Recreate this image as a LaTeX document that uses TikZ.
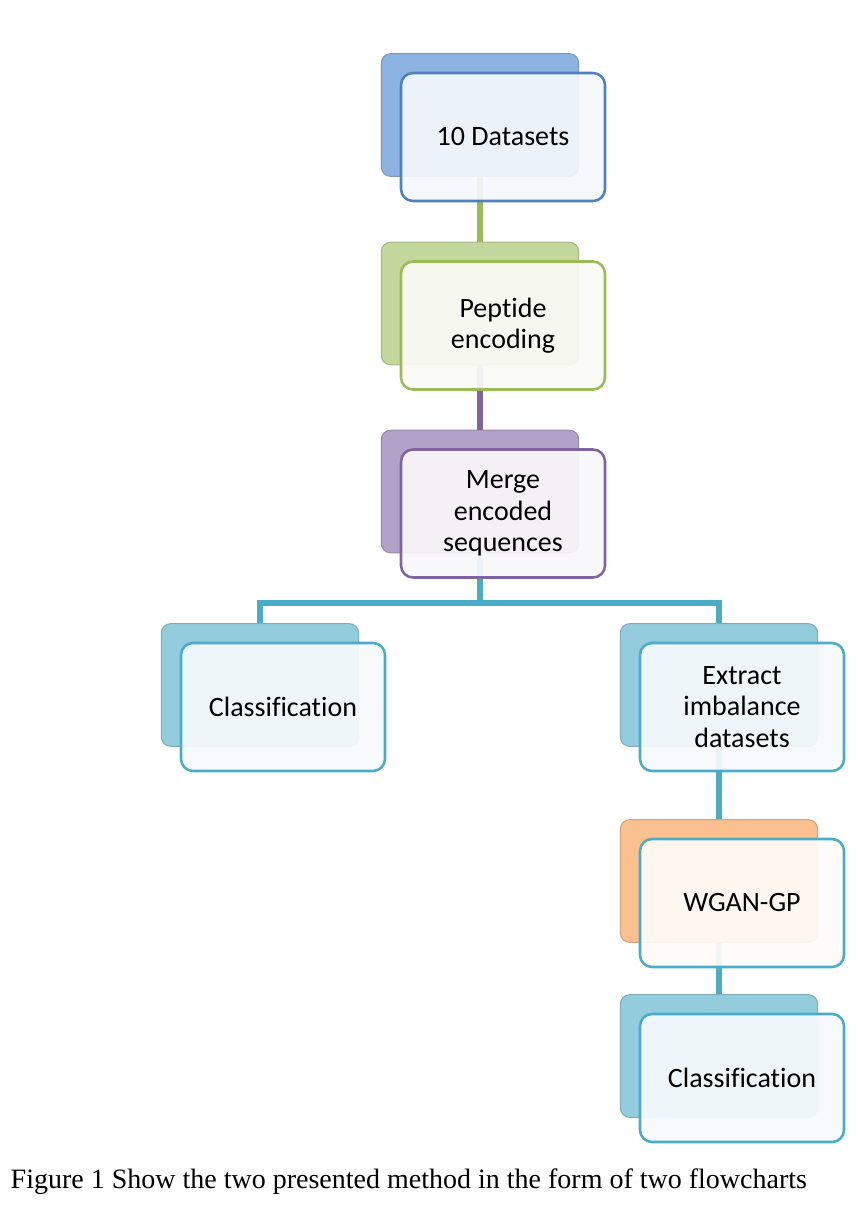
\documentclass[tikz,border=0pt]{standalone}
\usepackage{fontspec}
\setmainfont{Liberation Serif}
\newfontfamily\cardfont[RawFeature={-liga;-clig;-dlig}]{Carlito}
\usetikzlibrary{positioning,calc,backgrounds}
\definecolor{StackBlue}{HTML}{8DB3E2}
\definecolor{EdgeBlue}{HTML}{4F81BD}
\definecolor{StackGreen}{HTML}{C3D69B}
\definecolor{EdgeGreen}{HTML}{9BBB59}
\definecolor{StackPurple}{HTML}{B3A2C7}
\definecolor{EdgePurple}{HTML}{8064A2}
\definecolor{StackCyan}{HTML}{93CDDD}
\definecolor{EdgeCyan}{HTML}{4BACC6}
\definecolor{StackOrange}{HTML}{FAC090}

\begin{document}
\begin{tikzpicture}[x=0.75pt, y=-0.75pt, every node/.style={font=\cardfont\fontsize{21}{23.5}\selectfont}]
\tikzstyle{card}=[draw, line width=1.9pt, rounded corners=9pt, fill opacity=0.93, text opacity=1, align=center, minimum width=153pt, minimum height=96pt]
\tikzstyle{backcard}=[line width=0.8pt, rounded corners=7pt, minimum width=148pt, minimum height=92pt]
\tikzstyle{link}=[line width=4.5pt]
\useasboundingbox (0,0) rectangle (860,1223);
% front cards
\node[card, draw=EdgeBlue, fill=StackBlue!10] (data) at (503,137) {10 Datasets};
\node[card, draw=EdgeGreen, fill=StackGreen!9] (enc) at (503,325.5) {Peptide\\encoding};
\node[card, draw=EdgePurple, fill=StackPurple!9] (merge) at (503,513.5) {Merge\\encoded\\sequences};
\node[card, draw=EdgeCyan, fill=StackCyan!9] (clsleft) at (283,707) {Classification};
\node[card, draw=EdgeCyan, fill=StackCyan!9] (extract) at (742,707) {Extract\\imbalance\\datasets};
\node[card, draw=EdgeCyan, fill=StackOrange!7] (wgan) at (742,903) {WGAN-GP};
\node[card, draw=EdgeCyan, fill=StackCyan!9] (clsright) at (742,1078) {Classification};
\coordinate (fork) at (480,603);
\begin{scope}[on background layer]
% stacked cards behind
\node[backcard, fill=StackBlue, draw=StackBlue!85!black] (data-bk) at ($(data)+(-23,-22)$) {};
\node[backcard, fill=StackGreen, draw=StackGreen!85!black] (enc-bk) at ($(enc)+(-23,-22)$) {};
\node[backcard, fill=StackPurple, draw=StackPurple!85!black] (merge-bk) at ($(merge)+(-23,-22)$) {};
\node[backcard, fill=StackCyan, draw=StackCyan!85!black] (clsleft-bk) at ($(clsleft)+(-23,-22)$) {};
\node[backcard, fill=StackCyan, draw=StackCyan!85!black] (extract-bk) at ($(extract)+(-23,-22)$) {};
\node[backcard, fill=StackOrange, draw=StackOrange!85!black] (wgan-bk) at ($(wgan)+(-23,-22)$) {};
\node[backcard, fill=StackCyan, draw=StackCyan!85!black] (clsright-bk) at ($(clsright)+(-23,-22)$) {};
\end{scope}
\begin{scope}[on background layer]
\draw[link, EdgeGreen] (data-bk.south) -- (enc-bk.north);
\draw[link, EdgePurple] (enc-bk.south) -- (merge-bk.north);
\draw[link, EdgeCyan] (merge-bk.south) -- (fork);
\draw[link, EdgeCyan] (clsleft-bk.north) |- (fork) -| (extract-bk.north);
\draw[link, EdgeCyan] (extract-bk.south) -- (wgan-bk.north);
\draw[link, EdgeCyan] (wgan-bk.south) -- (clsright-bk.north);
\end{scope}
% caption
\node[anchor=base west, font=\rmfamily\fontsize{21}{25}\selectfont] (caption) at (6,1188) {Figure 1 Show the two presented method in the form of two flowcharts};
\end{tikzpicture}
\end{document}
